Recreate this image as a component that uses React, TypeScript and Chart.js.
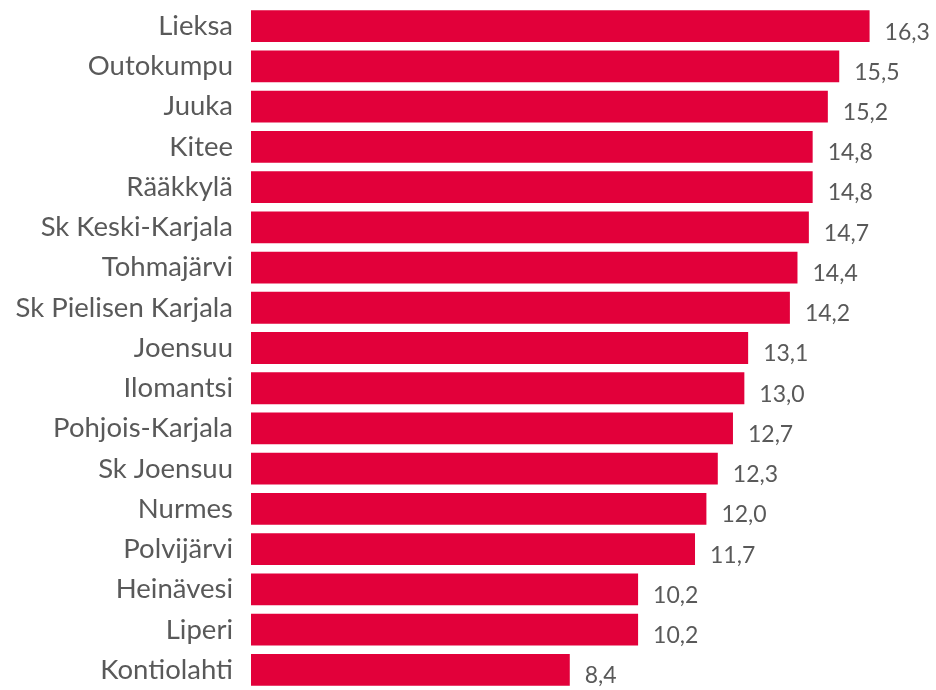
import React, { useEffect, useRef } from "react";
import { Chart, registerables } from "chart.js";

Chart.register(...registerables);

const categories = [
  "Lieksa",
  "Outokumpu",
  "Juuka",
  "Kitee",
  "Rääkkylä",
  "Sk Keski-Karjala",
  "Tohmajärvi",
  "Sk Pielisen Karjala",
  "Joensuu",
  "Ilomantsi",
  "Pohjois-Karjala",
  "Sk Joensuu",
  "Nurmes",
  "Polvijärvi",
  "Heinävesi",
  "Liperi",
  "Kontiolahti",
];

const values = [16.3, 15.5, 15.2, 14.8, 14.8, 14.7, 14.4, 14.2, 13.1, 13.0, 12.7, 12.3, 12.0, 11.7, 10.2, 10.2, 8.4];

const BAR_COLOR = "#E2003A";
const TEXT_COLOR = "#595959";
const FONT = "Lato, 'Open Sans', sans-serif";

const valueLabelPlugin = {
  id: "valueLabels",
  afterDatasetsDraw(chart: any) {
    const ctx = chart.ctx;
    const meta = chart.getDatasetMeta(0);
    ctx.save();
    ctx.fillStyle = TEXT_COLOR;
    ctx.font = `23px ${FONT}`;
    ctx.textAlign = "left";
    ctx.textBaseline = "middle";
    meta.data.forEach((bar: any, i: number) => {
      const label = values[i].toFixed(1).replace(".", ",");
      ctx.fillText(label, bar.x + 15, bar.y + 6);
    });
    ctx.restore();
  },
};

export default function App() {
  const canvasRef = useRef<HTMLCanvasElement | null>(null);

  useEffect(() => {
    document.body.style.margin = "0";
    const canvas = canvasRef.current!;
    const chart = new Chart(canvas, {
      type: "bar",
      data: {
        labels: categories,
        datasets: [
          {
            data: values,
            backgroundColor: BAR_COLOR,
            borderWidth: 0,
            categoryPercentage: 1,
            barPercentage: 0.79,
          },
        ],
      },
      options: {
        indexAxis: "y",
        responsive: false,
        animation: false,
        maintainAspectRatio: false,
        layout: { padding: { top: 6, bottom: 0, left: 0, right: 0 } },
        plugins: {
          legend: { display: false },
          tooltip: { enabled: false },
        },
        scales: {
          x: {
            display: false,
            min: 0,
            max: 18.05,
          },
          y: {
            grid: { display: false, drawTicks: false },
            border: { display: false },
            ticks: {
              color: TEXT_COLOR,
              font: { family: FONT, size: 27.5 },
              padding: 18,
              autoSkip: false,
            },
            afterFit(scale: any) {
              scale.width = 251;
              scale.paddingTop = 0;
              scale.paddingBottom = 0;
            },
          },
        },
      },
      plugins: [valueLabelPlugin],
    });
    return () => chart.destroy();
  }, []);

  return (
    <div style={{ width: 936, height: 690, background: "#fff" }}>
      <canvas ref={canvasRef} width={936} height={690} style={{ display: "block" }} />
    </div>
  );
}
